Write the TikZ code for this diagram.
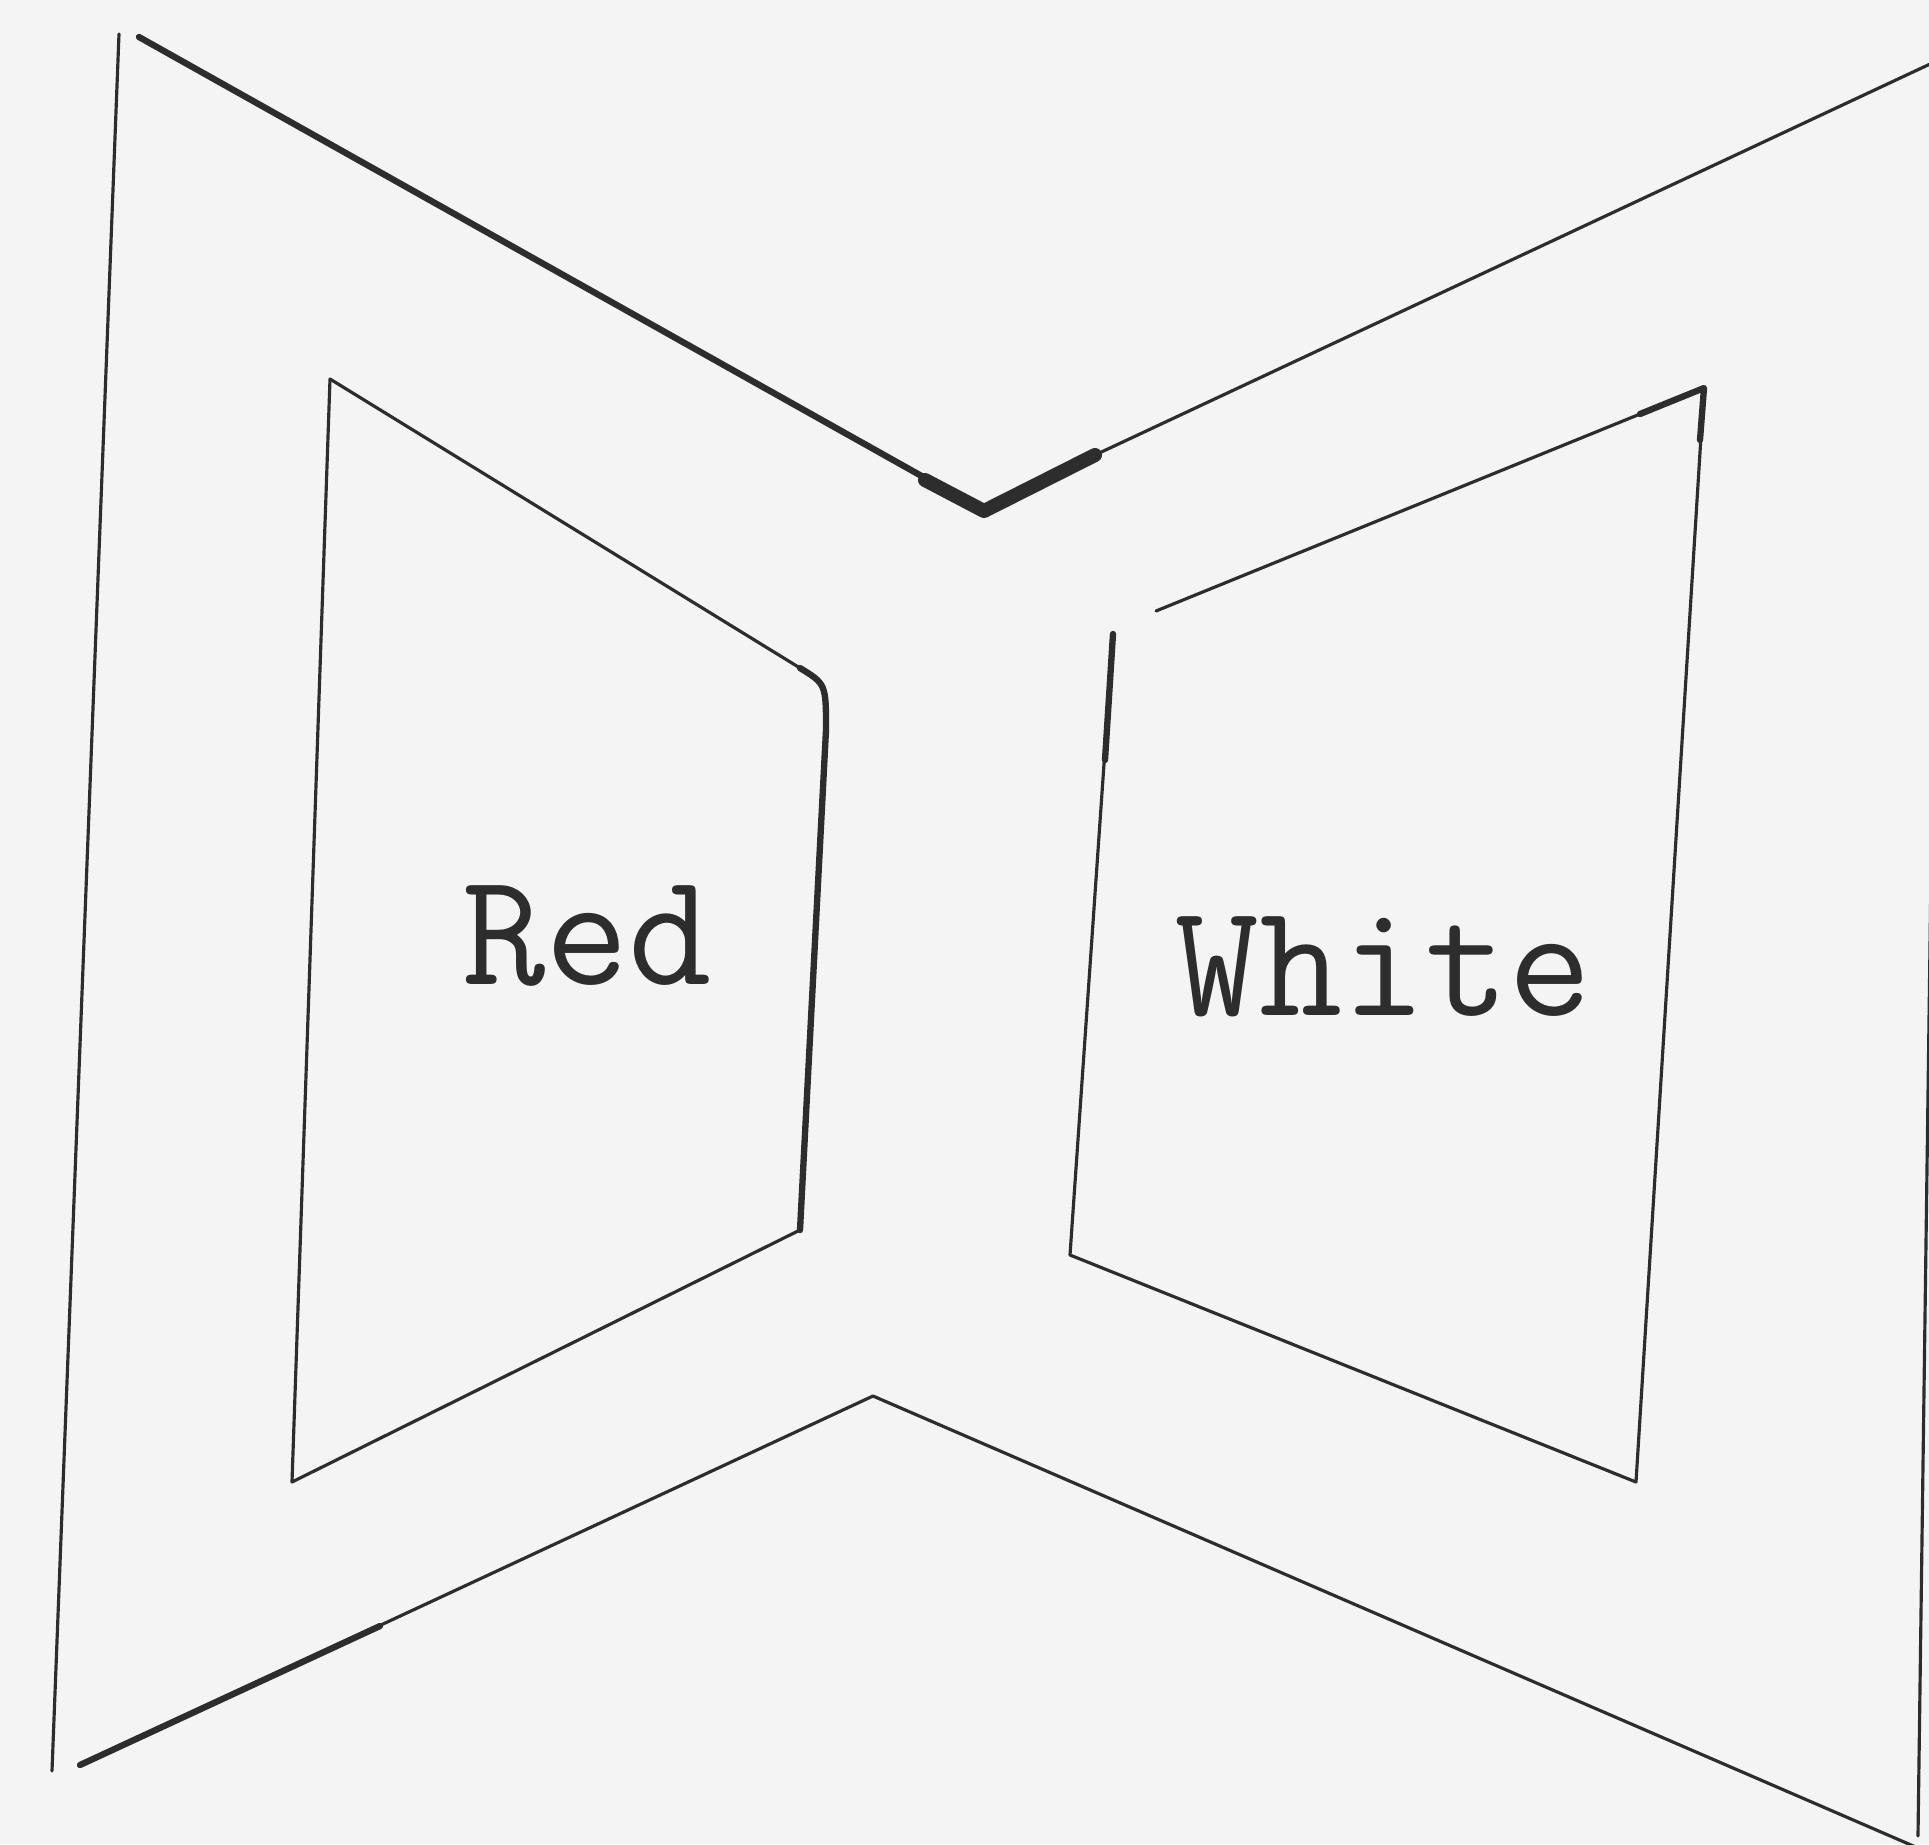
\documentclass[tikz,border=0pt]{standalone}
\usepackage{fontspec}
\definecolor{paper}{RGB}{244,244,244}
\definecolor{ink}{RGB}{45,45,45}

\begin{document}
\begin{tikzpicture}[x=0.01cm, y=-0.01cm, line join=round, line cap=round]
\tikzset{
  pen/.style={draw=ink, line width=0.9pt},
  heavypen/.style={draw=ink, line width=1.8pt},
  blob/.style={draw=ink, line width=4pt},
  typed/.style={font=\ttfamily\fontsize{46}{46}\selectfont, text=ink, anchor=base, inner sep=0pt}
}
% paper, sized in pixels of the sheet
\fill[paper] (0,0) rectangle (1929,1844);
\useasboundingbox (0,0) rectangle (1929,1844);
\clip (0,0) rectangle (1929,1844);
% outer bow
\draw[pen] (119,34) -- (52,1771);
\draw[heavypen] (139,37) -- (984,511);
\draw[blob] (925,480) -- (984,511) -- (1095,455);
\draw[pen] (1095,455) -- (1960,50);
\draw[pen] (1934,650) -- (1918,1836);
\draw[pen] (1918,1848) -- (873,1396) -- (80,1765);
\draw[heavypen] (80,1765) -- (380,1626);
% inner left (Red)
\draw[pen] (800,1230) -- (292,1482) -- (330,379) -- (800,668);
\draw[heavypen] (800,668) .. controls (826,684) .. (826,730) -- (800,1230);
% inner right (White)
\draw[pen] (1156,611) -- (1704,388) -- (1636,1482) -- (1070,1255) -- (1113,634);
\draw[heavypen] (1640,414) -- (1704,388) -- (1700,440);
\draw[heavypen] (1113,634) -- (1105,760);
% labels
\node[typed] (red) at (587,984) {Red};
\node[typed] (white) at (1384,1015) {White};
\end{tikzpicture}
\end{document}
